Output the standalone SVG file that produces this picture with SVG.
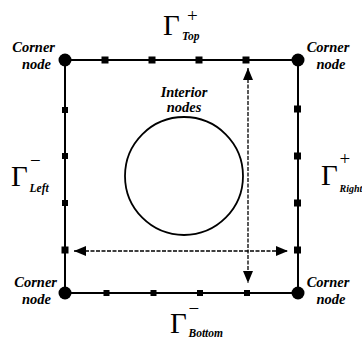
<svg xmlns="http://www.w3.org/2000/svg" width="362" height="340" viewBox="0 0 362 340">
<style>
.edge{stroke:#000;stroke-width:2;fill:none}
.dash{stroke:#000;stroke-width:1.3;fill:none;stroke-dasharray:4 1.5}
.lbl{font-family:"Liberation Serif","Times New Roman",serif;font-weight:bold;font-style:italic;font-size:14.5px;fill:#000}
.g{font-family:"Liberation Serif","Times New Roman",serif;fill:#000}
.gam{font-size:29px}
.sup{font-size:19px}
.sub{font-weight:bold;font-style:italic;font-size:11.5px}
.corner{fill:#000}
.sq{fill:#000}
</style>
<defs>
<marker id="ah" viewBox="0 0 12 10" refX="12" refY="5" markerWidth="12" markerHeight="10" markerUnits="userSpaceOnUse" orient="auto-start-reverse">
<path d="M0,0 L12,5 L0,10 Z" fill="#000"/>
</marker>
</defs>
<g id="boundary">
<rect class="edge" x="65" y="60" width="233" height="233"/>
</g>
<g id="connectors">
<line class="dash" x1="248" y1="68" x2="248" y2="283" marker-start="url(#ah)" marker-end="url(#ah)"/>
<line class="dash" x1="74" y1="251" x2="288" y2="251" marker-start="url(#ah)" marker-end="url(#ah)"/>
</g>
<g id="corner-tl"><circle class="corner" cx="65" cy="60" r="6.5"/><text class="lbl" x="55" y="52" text-anchor="end">Corner</text><text class="lbl" x="51" y="69" text-anchor="end">node</text></g>
<g id="corner-tr"><circle class="corner" cx="298" cy="60" r="6.5"/><text class="lbl" x="328" y="52" text-anchor="middle">Corner</text><text class="lbl" x="331" y="69" text-anchor="middle">node</text></g>
<g id="corner-bl"><circle class="corner" cx="65" cy="293" r="6.5"/><text class="lbl" x="57" y="287" text-anchor="end">Corner</text><text class="lbl" x="51" y="304" text-anchor="end">node</text></g>
<g id="corner-br"><circle class="corner" cx="298" cy="293" r="6.5"/><text class="lbl" x="328" y="287" text-anchor="middle">Corner</text><text class="lbl" x="331" y="304" text-anchor="middle">node</text></g>
<g id="top-nodes">
<rect class="sq" x="101.5" y="56.5" width="7" height="7"/>
<rect class="sq" x="148.5" y="56.5" width="7" height="7"/>
<rect class="sq" x="195.5" y="56.5" width="7" height="7"/>
<rect class="sq" x="242.5" y="56.5" width="7" height="7"/>
</g>
<g id="bottom-nodes">
<rect class="sq" x="103.5" y="290" width="6" height="6"/>
<rect class="sq" x="150.5" y="290" width="6" height="6"/>
<rect class="sq" x="197" y="290" width="6" height="6"/>
<rect class="sq" x="244" y="290" width="6" height="6"/>
</g>
<g id="left-nodes">
<rect class="sq" x="62" y="107" width="6" height="6"/>
<rect class="sq" x="62" y="153" width="6" height="6"/>
<rect class="sq" x="62" y="200" width="6" height="6"/>
<rect class="sq" x="61.5" y="246.5" width="7" height="7"/>
</g>
<g id="right-nodes">
<rect class="sq" x="294" y="105.5" width="7" height="7"/>
<rect class="sq" x="294" y="152.5" width="7" height="7"/>
<rect class="sq" x="294" y="199.5" width="7" height="7"/>
<rect class="sq" x="294" y="246.5" width="7" height="7"/>
</g>
<g id="interior">
<circle cx="184" cy="176" r="59" fill="none" stroke="#000" stroke-width="1.8"/>
<text class="lbl" x="184" y="97" text-anchor="middle">Interior</text>
<text class="lbl" x="184" y="112" text-anchor="middle">nodes</text>
</g>
<g id="gamma-top"><text class="g"><tspan class="gam" x="163" y="35">Γ</tspan><tspan class="sup" x="187" y="22">+</tspan><tspan class="sub" x="182" y="40">Top</tspan></text></g>
<g id="gamma-bottom"><text class="g"><tspan class="gam" x="170" y="333">Γ</tspan><tspan class="sup" x="188.5" y="315">−</tspan><tspan class="sub" x="188.5" y="337">Bottom</tspan></text></g>
<g id="gamma-left"><text class="g"><tspan class="gam" x="11" y="186">Γ</tspan><tspan class="sup" x="30" y="167">−</tspan><tspan class="sub" x="29.5" y="192">Left</tspan></text></g>
<g id="gamma-right"><text class="g"><tspan class="gam" x="321" y="185">Γ</tspan><tspan class="sup" x="339.5" y="165">+</tspan><tspan class="sub" x="339.5" y="192" style="font-size:10px">Right</tspan></text></g>
</svg>
